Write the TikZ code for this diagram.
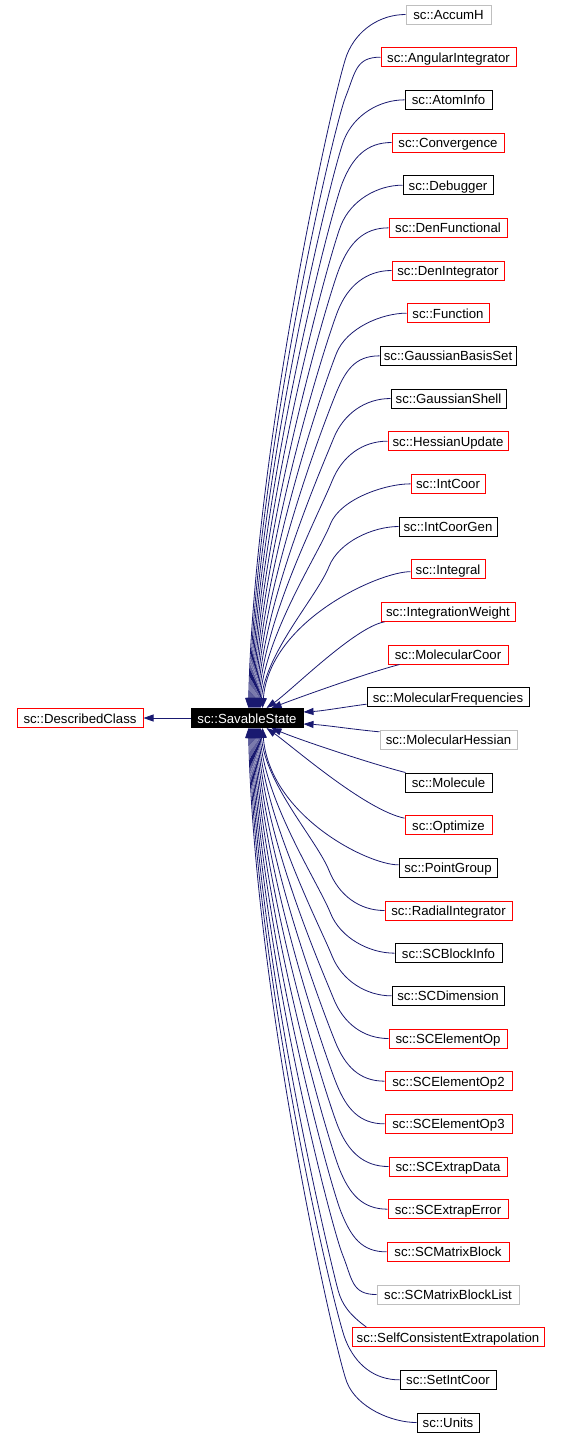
\documentclass[tikz,border=0pt]{standalone}
\usepackage{fontspec}
\setmainfont{Liberation Sans}
\usetikzlibrary{arrows.meta,calc}
\definecolor{lgray}{RGB}{191,191,191}
\definecolor{edgeblue}{RGB}{25,25,112}
\definecolor{bred}{RGB}{255,0,0}
\begin{document}
\begin{tikzpicture}[x=1pt,y=-1pt,
  cls/.style={rectangle, line width=1pt, inner sep=0pt, minimum height=19pt,
    text height=10pt, text depth=0pt,
    font=\fontsize{13.2}{15}\selectfont, text=black},
  edge/.style={draw=edgeblue, line width=0.8pt, -{Triangle[length=10pt,width=7pt]}}]
\useasboundingbox (0,0) rectangle (561,1438);

% base classes
\node[cls, draw=black, fill=black, text=white, minimum width=112pt] (ss) at (247,718) {sc::SavableState};
\node[cls, draw=bred, fill=white, minimum width=126pt] (dc) at (80,718) {sc::DescribedClass};

% derived classes
\foreach \i/\nm/\l/\r/\c in {
  0/AccumH/406/491/lgray,
  1/AngularIntegrator/381/516/bred,
  2/AtomInfo/405/492/black,
  3/Convergence/392/504/bred,
  4/Debugger/403/493/black,
  5/DenFunctional/389/507/bred,
  6/DenIntegrator/392/504/bred,
  7/Function/407/489/bred,
  8/GaussianBasisSet/380/516/black,
  9/GaussianShell/391/506/black,
  10/HessianUpdate/388/508/bred,
  11/IntCoor/411/485/bred,
  12/IntCoorGen/399/497/black,
  13/Integral/411/485/bred,
  14/IntegrationWeight/381/515/bred,
  15/MolecularCoor/388/508/bred,
  16/MolecularFrequencies/367/529/black,
  17/MolecularHessian/380/517/lgray,
  18/Molecule/405/492/black,
  19/Optimize/405/492/bred,
  20/PointGroup/399/497/black,
  21/RadialIntegrator/385/512/bred,
  22/SCBlockInfo/395/502/black,
  23/SCDimension/392/504/black,
  24/SCElementOp/389/507/bred,
  25/SCElementOp2/385/512/bred,
  26/SCElementOp3/385/512/bred,
  27/SCExtrapData/389/507/bred,
  28/SCExtrapError/388/508/bred,
  29/SCMatrixBlock/387/509/bred,
  30/SCMatrixBlockList/377/519/lgray,
  31/SelfConsistentExtrapolation/352/544/bred,
  32/SetIntCoor/400/496/black,
  33/Units/417/479/black}{
  \pgfmathsetmacro\xc{(\l+\r)/2}
  \pgfmathsetmacro\ww{\r-\l}
  \pgfmathsetmacro\yc{14.5+42.667*\i}
  \node[cls, draw=\c, fill=white, minimum width=\ww pt] (n\i) at (\xc,\yc) {sc::\nm};
}

% edge to DescribedClass
\draw[edge] (ss.west) -- (dc.east);

% upper far edges
\foreach \i in {0,...,12}{
  \pgfmathsetmacro\yy{14.5+42.667*\i}
  \pgfmathsetmacro\ax{347-1.5*\i}
  \pgfmathsetmacro\ay{\yy+40}
  \pgfmathsetmacro\bx{\ax+10}
  \pgfmathsetmacro\by{\ay-25}
  \pgfmathsetmacro\px{\ax-12}
  \pgfmathsetmacro\py{\ay+30}
  \pgfmathsetmacro\sh{58+\i}
  \pgfmathsetmacro\qx{191+\sh+5}
  \pgfmathsetmacro\qy{709-0.4*(709-\ay)}
  \draw[edge] (n\i.west) .. controls ($(n\i.west)+(-25,0)$) and (\bx,\by) .. (\ax,\ay)
     .. controls (\px,\py) and (\qx,\qy) .. ($(ss.north west)+(\sh,0)$);
}

% lower far edges
\foreach \i in {21,...,30,32,33}{
  \pgfmathsetmacro\yy{14.5+42.667*\i}
  \pgfmathsetmacro\ax{347-1.5*(33-\i)}
  \pgfmathsetmacro\ay{\yy-40}
  \pgfmathsetmacro\bx{\ax+10}
  \pgfmathsetmacro\by{\ay+25}
  \pgfmathsetmacro\px{\ax-12}
  \pgfmathsetmacro\py{\ay-30}
  \pgfmathsetmacro\sh{58+33-\i}
  \pgfmathsetmacro\qx{191+\sh+5}
  \pgfmathsetmacro\qy{728+0.4*(\ay-728)}
  \draw[edge] (n\i.west) .. controls ($(n\i.west)+(-25,0)$) and (\bx,\by) .. (\ax,\ay)
     .. controls (\px,\py) and (\qx,\qy) .. ($(ss.south west)+(\sh,0)$);
}
% SelfConsistentExtrapolation (enters at its top edge)
\draw[edge] ($(n31.north west)+(15,0)$) .. controls (350,1315) and (342,1305) .. (338,1290)
   .. controls (330,1260) and (256,952.8) .. ($(ss.south west)+(60,0)$);

% near edges
\draw[edge] ($(n13.west)+(0,2.5)$) .. controls (380,571.5) and (270,620) .. ($(ss.north west)+(72,0)$);
\draw[edge] ($(n14.south west)+(4,0)$) .. controls (355,627) and (292,690) .. ($(ss.north west)+(76,0)$);
\draw[edge] ($(n15.south west)+(12,0)$) .. controls (370,672) and (300,697) .. ($(ss.north west)+(81,0)$);
\draw[edge] ($(n16.west)+(0,7)$) .. controls (345,707) and (322,711) .. ($(ss.east)+(0,-6)$);
\draw[edge] ($(n17.west)+(0,-8)$) .. controls (350,729) and (325,725) .. ($(ss.east)+(0,6)$);
\draw[edge] ($(n18.north west)+(1,0)$) .. controls (372,764) and (300,740) .. ($(ss.south west)+(81,0)$);
\draw[edge] ($(n19.west)+(0,-7)$) .. controls (365,810) and (292,746) .. ($(ss.south west)+(76,0)$);
\draw[edge] ($(n20.west)+(0,-3)$) .. controls (368,865) and (270,816) .. ($(ss.south west)+(72,0)$);
\end{tikzpicture}
\end{document}
